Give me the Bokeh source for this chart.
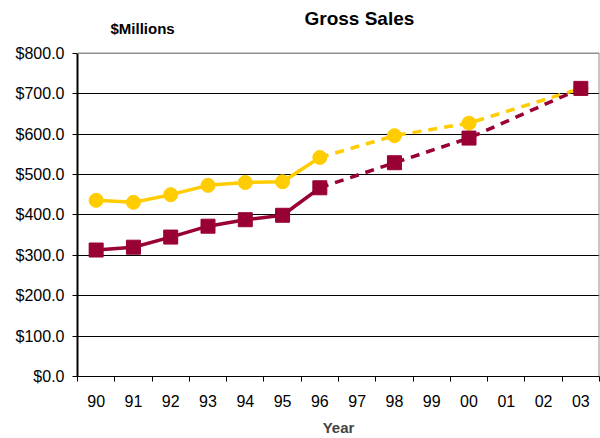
from bokeh.plotting import figure
from bokeh.models import Range1d, FixedTicker, NumeralTickFormatter, Span
from bokeh.core.properties import value
from bokeh.embed import file_html
from bokeh.resources import INLINE

years = ["90", "91", "92", "93", "94", "95", "96", "97", "98", "99", "00", "01", "02", "03"]

actual_years = ["90", "91", "92", "93", "94", "95", "96"]
gold_actual = [436, 431, 450, 473, 480, 482, 542]
red_actual = [313, 320, 345, 372, 388, 399, 467]

proj_years = ["96", "98", "00", "03"]
gold_proj = [542, 596, 627, 713]
red_proj = [467, 529, 590, 713]

y_ticks = [0, 100, 200, 300, 400, 500, 600, 700, 800]
Y_MAX = 800

GOLD = "#FFCC00"
RED = "#990033"
FONT = "Liberation Sans"


def xpos(labels):
    return [years.index(lab) + 0.5 for lab in labels]


# frame spans the whole height above the x axis; value range 0..800 occupies the lower part
p = figure(width=600, height=438, output_backend="svg", toolbar_location=None,
           x_range=Range1d(0, len(years)), y_range=Range1d(0, 930.5),
           min_border_left=77, min_border_right=1, min_border_top=0, min_border_bottom=60)

# Titles
p.text(x=[0.885], y=[860], text=["$Millions"], text_font=value(FONT), text_font_size="15px",
       text_font_style="bold", text_color="#000000", text_baseline="middle", text_align="left")
p.text(x=[6.087], y=[886], text=["Gross Sales"], text_font=value(FONT), text_font_size="19px",
       text_font_style="bold", text_color="#000000", text_baseline="middle", text_align="left")

# Plot-area border (top and right)
p.add_layout(Span(location=Y_MAX, dimension="width", line_color="#909090", line_width=1.5))
p.segment(x0=[len(years)], y0=[0], x1=[len(years)], y1=[Y_MAX], line_color="#909090", line_width=2)

# Lines
p.line(xpos(actual_years), gold_actual, line_color=GOLD, line_width=3.5)
p.line(xpos(proj_years), gold_proj, line_color=GOLD, line_width=3.5, line_dash="9 7")
p.scatter(xpos(actual_years), gold_actual, marker="circle", size=14, fill_color=GOLD, line_color=GOLD)
p.scatter(xpos(proj_years[1:]), gold_proj[1:], marker="circle", size=14, fill_color=GOLD, line_color=GOLD)

p.line(xpos(actual_years), red_actual, line_color=RED, line_width=3.5)
p.line(xpos(proj_years), red_proj, line_color=RED, line_width=3.5, line_dash="9 7")
p.scatter(xpos(actual_years), red_actual, marker="square", size=14, fill_color=RED, line_color=RED)
p.scatter(xpos(proj_years[1:]), red_proj[1:], marker="square", size=14, fill_color=RED, line_color=RED)

# X axis: labels at centers, ticks at boundaries
p.xaxis.ticker = FixedTicker(ticks=[i + 0.5 for i in range(len(years))],
                             minor_ticks=list(range(len(years) + 1)))
p.xaxis.major_label_overrides = {i + 0.5: lab for i, lab in enumerate(years)}
p.xaxis.major_tick_out = 0
p.xaxis.major_tick_in = 0
p.xaxis.minor_tick_out = 5
p.xaxis.minor_tick_in = 0
p.xaxis.minor_tick_line_color = "#000000"
p.xaxis.axis_line_color = "#000000"
p.xaxis.axis_line_width = 1
p.xaxis.major_label_text_font = FONT
p.xaxis.major_label_text_font_size = "16px"
p.xaxis.major_label_text_color = "#000000"
p.xaxis.major_label_standoff = 13
p.xaxis.axis_label = "Year"
p.xaxis.axis_label_text_font = FONT
p.xaxis.axis_label_text_font_size = "15px"
p.xaxis.axis_label_text_font_style = "bold"
p.xaxis.axis_label_standoff = 9

# Y axis
p.yaxis.ticker = FixedTicker(ticks=y_ticks, minor_ticks=[])
p.yaxis.bounds = (0, Y_MAX)
p.yaxis.formatter = NumeralTickFormatter(format="$0.0")
p.yaxis.major_tick_out = 5
p.yaxis.major_tick_in = 0
p.yaxis.major_tick_line_color = "#000000"
p.yaxis.axis_line_color = "#000000"
p.yaxis.axis_line_width = 2
p.yaxis.major_label_text_font = FONT
p.yaxis.major_label_text_font_size = "16px"
p.yaxis.major_label_text_color = "#000000"
p.yaxis.major_label_standoff = 8

p.xgrid.grid_line_color = None
p.ygrid.ticker = FixedTicker(ticks=y_ticks[1:-1], minor_ticks=[])
p.ygrid.grid_line_color = "#000000"
p.ygrid.grid_line_width = 1
p.outline_line_color = None

open("out.html", "w").write(file_html(p, INLINE))
